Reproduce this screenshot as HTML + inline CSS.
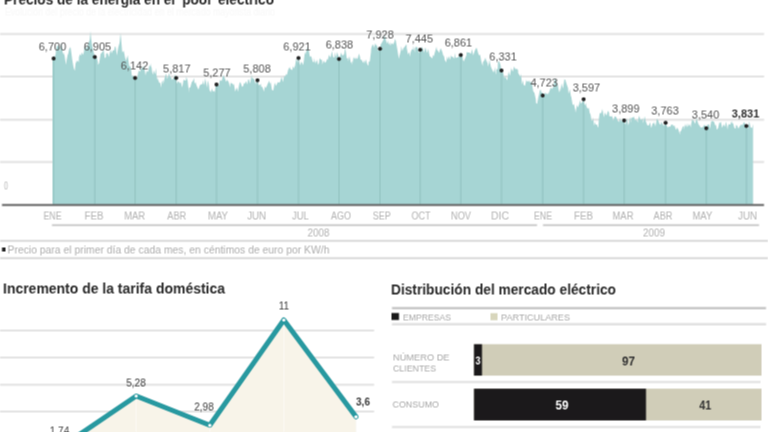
<!DOCTYPE html>
<html><head><meta charset="utf-8"><style>
html,body{margin:0;padding:0;background:#fff;width:768px;height:432px;overflow:hidden}
svg{display:block;font-family:"Liberation Sans", sans-serif}
#w{will-change:transform}
</style></head><body>
<div id="w"><svg width="768" height="432" viewBox="0 0 768 432">
<defs><g id="c"><rect x="-2" y="-2" width="772" height="436" fill="#fff"/>
<line x1="0" y1="34.1" x2="764" y2="34.1" stroke="#e4e4e4" stroke-width="2"/>
<line x1="0" y1="76.5" x2="764" y2="76.5" stroke="#e4e4e4" stroke-width="2"/>
<line x1="0" y1="119.7" x2="764" y2="119.7" stroke="#e4e4e4" stroke-width="2"/>
<line x1="0" y1="162.1" x2="764" y2="162.1" stroke="#e4e4e4" stroke-width="2"/>
<path d="M52.50,205.00 L52.50,58.00 L53.00,59.75 L53.00,58.00 L54.00,55.00 L54.36,58.57 L55.72,53.96 L56.00,50.00 L57.08,45.59 L58.00,46.00 L58.44,44.94 L59.80,52.04 L60.00,48.00 L61.16,42.97 L62.00,47.00 L62.52,52.01 L63.88,55.17 L64.00,52.00 L65.24,60.24 L66.00,65.00 L66.60,60.53 L67.96,53.48 L68.00,55.00 L69.32,48.82 L70.50,47.00 L70.68,48.27 L72.00,58.00 L72.04,58.77 L73.40,66.73 L74.00,69.00 L74.76,71.04 L76.00,60.00 L76.12,63.31 L77.48,60.24 L78.84,62.55 L79.00,57.00 L80.20,54.05 L81.00,56.00 L81.56,52.36 L82.92,55.07 L84.00,52.00 L84.28,47.52 L85.64,45.40 L86.00,49.00 L87.00,47.65 L88.00,45.00 L88.36,43.15 L89.72,40.04 L90.50,31.00 L91.08,38.21 L92.00,45.00 L92.44,47.40 L93.80,52.67 L95.00,57.00 L95.16,55.40 L96.52,56.67 L97.88,62.10 L98.00,65.00 L99.24,63.08 L100.00,58.00 L100.60,54.11 L101.96,52.62 L103.00,51.00 L103.32,47.18 L104.68,58.16 L106.00,57.00 L106.04,53.98 L107.40,53.08 L108.00,54.00 L108.76,57.29 L110.12,51.77 L111.00,50.00 L111.48,53.58 L112.84,50.41 L114.20,50.32 L114.70,47.00 L115.56,46.41 L116.92,55.63 L117.00,55.00 L118.28,47.53 L119.64,42.62 L120.50,33.00 L121.00,37.78 L122.00,50.00 L122.36,52.47 L123.72,50.82 L125.08,57.85 L126.00,61.00 L126.44,59.07 L127.80,55.30 L128.00,58.00 L129.16,65.92 L130.52,66.53 L131.00,69.00 L131.88,76.27 L133.24,75.44 L134.60,78.65 L135.00,78.00 L135.96,78.65 L137.32,77.30 L138.68,70.31 L139.70,72.00 L140.04,71.45 L141.40,67.63 L142.70,68.00 L142.76,67.58 L144.12,65.79 L145.48,75.76 L146.84,69.50 L147.00,72.00 L148.20,71.52 L149.56,64.74 L150.92,67.42 L151.00,63.00 L152.28,72.80 L153.00,75.00 L153.64,70.32 L155.00,74.28 L156.00,68.00 L156.36,74.75 L157.72,81.14 L158.00,78.00 L159.08,82.80 L160.44,83.09 L161.00,88.00 L161.80,82.22 L163.00,80.00 L163.16,84.54 L164.52,78.74 L165.00,77.00 L165.88,73.43 L167.24,79.10 L168.60,75.32 L169.00,73.00 L169.96,76.44 L171.32,77.68 L172.00,80.00 L172.68,79.35 L174.04,77.13 L175.40,74.61 L176.00,78.50 L176.76,83.65 L178.12,81.15 L179.00,82.00 L179.48,83.37 L180.84,82.21 L182.20,87.61 L182.70,85.00 L183.56,79.45 L184.92,80.86 L186.00,80.00 L186.28,76.55 L187.64,81.10 L189.00,93.17 L189.00,88.00 L190.36,87.36 L191.72,82.34 L193.08,80.58 L194.00,78.00 L194.44,83.55 L195.80,82.34 L196.00,84.00 L197.16,86.95 L198.52,89.70 L199.00,88.00 L199.88,85.29 L201.24,84.21 L202.60,83.95 L203.00,80.00 L203.96,85.23 L205.32,78.56 L206.00,82.00 L206.68,87.74 L208.04,80.27 L209.00,86.00 L209.40,89.68 L210.76,92.46 L212.12,87.93 L212.70,92.00 L213.48,90.42 L214.84,92.17 L216.20,81.95 L217.00,85.00 L217.56,85.85 L218.92,85.23 L220.00,80.00 L220.28,80.32 L221.64,80.94 L222.70,77.00 L223.00,75.22 L224.36,77.00 L225.72,80.71 L226.00,82.00 L227.08,79.65 L228.44,81.77 L229.00,83.00 L229.80,87.51 L230.70,82.00 L231.16,83.83 L232.52,83.27 L233.00,85.00 L233.88,83.88 L235.24,91.70 L236.60,87.64 L237.00,88.00 L237.96,91.38 L239.32,84.02 L240.00,82.00 L240.68,82.88 L242.04,86.98 L243.40,85.78 L244.00,83.00 L244.76,83.74 L246.12,81.18 L247.48,84.67 L248.00,80.00 L248.84,79.20 L250.20,83.63 L251.56,74.41 L252.00,78.00 L252.92,78.17 L254.28,79.61 L255.64,84.47 L257.00,78.01 L257.00,80.00 L258.36,84.92 L259.72,84.98 L261.00,84.00 L261.08,86.74 L262.44,87.02 L263.80,91.60 L265.16,86.37 L265.70,88.00 L266.52,86.72 L267.88,83.50 L269.24,80.71 L270.00,84.00 L270.60,82.08 L271.96,90.12 L273.32,90.39 L274.00,87.00 L274.68,82.77 L276.04,85.99 L277.40,83.04 L278.00,82.00 L278.76,82.69 L280.12,81.97 L281.48,77.09 L282.00,78.00 L282.84,82.27 L284.20,75.96 L285.56,76.22 L286.00,74.00 L286.92,75.07 L288.28,69.40 L289.64,67.02 L290.70,70.00 L291.00,69.09 L292.36,70.25 L293.00,66.00 L293.72,68.59 L295.08,65.72 L295.70,62.00 L296.44,57.65 L297.80,63.83 L298.70,58.00 L299.16,62.32 L300.52,65.44 L301.00,62.00 L301.88,62.15 L303.24,65.16 L304.00,60.00 L304.60,54.47 L305.96,50.90 L306.00,55.00 L307.32,46.74 L308.00,49.00 L308.68,50.09 L310.00,58.00 L310.04,56.03 L311.40,56.78 L312.76,61.93 L314.00,62.00 L314.12,57.91 L315.48,63.70 L316.84,59.73 L318.20,65.12 L319.00,63.00 L319.56,58.15 L320.92,59.69 L322.00,60.00 L322.28,64.83 L323.64,60.56 L325.00,63.02 L326.36,61.21 L327.00,59.00 L327.72,60.07 L329.08,54.85 L330.44,57.66 L331.00,56.00 L331.80,51.10 L333.16,57.36 L334.52,57.58 L335.00,52.00 L335.88,57.58 L337.24,51.93 L338.60,57.19 L339.00,59.00 L339.96,56.40 L341.32,52.53 L342.00,55.00 L342.68,55.41 L344.04,54.39 L345.00,49.00 L345.40,48.84 L346.76,58.41 L348.00,58.00 L348.12,61.56 L349.48,55.90 L350.84,63.30 L352.00,61.00 L352.20,65.13 L353.56,56.91 L354.92,59.32 L356.00,57.00 L356.28,58.89 L357.64,58.59 L359.00,53.46 L360.00,57.00 L360.36,59.38 L361.72,60.11 L363.08,63.05 L364.00,60.00 L364.44,63.72 L365.80,59.54 L367.16,64.07 L368.52,66.10 L368.70,62.00 L369.88,61.30 L371.00,52.00 L371.24,48.58 L372.60,44.21 L373.70,46.00 L373.96,47.93 L375.32,43.16 L376.68,46.23 L377.00,45.00 L378.04,51.33 L379.40,47.49 L380.00,49.00 L380.76,44.56 L382.12,42.19 L383.48,39.79 L383.70,37.00 L384.84,35.93 L386.20,41.61 L387.00,44.00 L387.56,40.46 L388.92,44.84 L390.00,42.00 L390.28,46.09 L391.64,42.91 L393.00,44.22 L393.00,45.00 L394.36,41.82 L395.00,39.00 L395.72,40.54 L397.08,48.22 L398.44,56.39 L398.70,59.00 L399.80,54.77 L401.00,50.00 L401.16,46.14 L402.52,51.34 L403.70,47.00 L403.88,48.35 L405.24,46.01 L406.60,44.24 L406.70,48.00 L407.96,54.57 L409.32,51.96 L410.00,57.00 L410.68,52.25 L412.04,49.05 L413.00,50.00 L413.40,45.91 L414.76,52.80 L415.00,48.00 L416.12,46.64 L417.48,47.56 L418.84,53.36 L420.00,50.00 L420.20,51.62 L421.56,46.75 L422.92,48.68 L424.28,52.63 L425.00,48.00 L425.64,48.05 L427.00,53.11 L428.36,48.67 L429.00,53.00 L429.72,56.13 L431.08,57.30 L432.44,58.48 L433.00,55.00 L433.80,56.24 L435.16,51.51 L436.52,46.74 L437.00,50.00 L437.88,50.69 L439.24,53.07 L440.00,50.00 L440.60,48.31 L441.96,51.10 L443.32,55.84 L444.00,56.00 L444.68,59.66 L446.04,62.51 L447.40,56.16 L448.00,60.00 L448.76,56.08 L450.12,59.96 L451.00,55.00 L451.48,56.71 L452.84,56.79 L454.20,58.87 L455.00,53.00 L455.56,58.08 L456.92,57.57 L458.28,57.36 L459.64,54.00 L461.00,56.91 L461.00,55.00 L462.36,55.74 L463.00,60.00 L463.72,61.54 L465.08,58.58 L466.44,55.28 L466.70,52.00 L467.80,52.46 L469.16,52.43 L470.52,53.47 L471.00,54.00 L471.88,48.91 L473.24,55.59 L474.60,51.13 L475.96,48.15 L476.70,48.00 L477.32,50.30 L478.68,54.92 L480.00,55.00 L480.04,54.41 L481.40,62.07 L482.76,66.13 L483.00,62.00 L484.12,60.81 L485.48,57.64 L486.84,63.18 L487.00,60.00 L488.20,66.63 L489.56,59.54 L490.00,63.00 L490.92,66.91 L492.28,69.95 L493.64,72.80 L495.00,66.73 L495.00,70.00 L496.00,75.00 L496.36,69.08 L497.72,69.20 L498.00,62.00 L499.08,61.10 L500.44,64.76 L501.80,71.80 L502.00,71.00 L503.16,72.99 L504.52,78.41 L505.88,75.20 L506.00,78.00 L507.24,80.58 L508.60,71.34 L509.00,73.00 L509.96,75.71 L511.32,68.02 L512.68,71.39 L513.00,71.00 L514.04,66.62 L515.40,69.16 L516.76,68.87 L518.00,70.00 L518.12,73.12 L519.48,75.23 L520.00,77.00 L520.84,73.91 L522.20,84.65 L523.00,80.00 L523.56,84.76 L524.92,85.94 L526.00,82.00 L526.28,80.04 L527.64,81.88 L529.00,80.58 L529.70,83.00 L530.36,81.15 L531.72,83.12 L533.00,90.00 L533.08,90.88 L534.44,92.97 L535.80,99.40 L536.00,103.00 L537.16,104.01 L538.52,96.62 L539.00,95.00 L539.88,90.14 L541.00,90.00 L541.24,92.80 L542.60,92.16 L543.00,95.00 L543.96,95.39 L545.32,92.40 L546.68,94.19 L548.00,93.00 L548.04,94.72 L549.40,91.53 L550.76,87.86 L551.00,88.00 L552.12,88.99 L553.48,86.87 L554.70,80.00 L554.84,77.66 L556.20,80.78 L557.00,86.00 L557.56,83.05 L558.92,92.72 L559.70,88.00 L560.28,92.16 L561.64,83.28 L562.00,85.00 L563.00,88.77 L564.36,79.21 L565.50,80.00 L565.72,81.27 L567.08,85.53 L568.00,88.00 L568.44,93.97 L569.80,89.31 L571.00,97.00 L571.16,96.29 L572.52,104.58 L573.00,105.00 L573.88,103.98 L575.24,110.03 L575.50,113.00 L576.60,107.28 L577.00,105.00 L577.96,107.53 L579.32,103.81 L579.70,100.00 L580.68,103.49 L582.04,102.40 L583.00,99.00 L583.40,102.11 L584.76,105.34 L586.00,103.00 L586.12,105.55 L587.48,108.82 L588.50,108.00 L588.84,108.10 L590.00,115.00 L590.20,112.55 L591.56,120.95 L592.70,120.00 L592.92,117.35 L594.28,126.07 L595.00,122.00 L595.64,124.65 L597.00,124.50 L597.70,127.00 L598.36,127.30 L599.00,118.00 L599.72,113.25 L601.00,113.00 L601.08,113.62 L602.44,109.06 L603.80,117.45 L605.00,112.00 L605.16,113.27 L606.52,115.73 L607.88,110.68 L609.00,112.50 L609.24,116.22 L610.60,116.36 L611.96,116.90 L612.00,115.00 L613.32,120.67 L614.68,116.17 L616.00,117.00 L616.04,116.67 L617.40,120.12 L618.76,122.23 L620.00,119.00 L620.12,117.91 L621.48,121.94 L622.84,118.01 L624.00,121.00 L624.20,122.10 L625.56,124.82 L626.92,118.32 L628.28,125.49 L629.00,123.00 L629.64,117.05 L631.00,123.08 L631.00,118.00 L632.36,117.73 L633.72,116.68 L634.00,117.00 L635.08,120.51 L636.44,119.56 L637.80,122.66 L638.00,120.00 L639.16,115.85 L640.52,120.06 L641.88,119.43 L642.70,118.00 L643.24,123.48 L644.60,116.20 L645.96,121.98 L646.00,122.00 L647.32,125.13 L648.68,125.69 L650.04,122.28 L651.00,127.00 L651.40,128.03 L652.76,122.96 L654.00,124.00 L654.12,121.33 L655.48,126.69 L656.84,118.41 L657.70,120.00 L658.20,120.35 L659.56,124.13 L660.92,124.52 L661.00,122.00 L662.28,123.31 L663.64,126.13 L665.00,123.01 L665.70,123.00 L666.36,124.95 L667.72,127.45 L669.08,126.56 L670.44,126.71 L671.00,125.00 L671.80,124.56 L673.00,125.00 L673.16,126.20 L674.52,125.60 L675.88,130.10 L677.00,128.00 L677.24,127.62 L678.60,130.30 L679.96,135.00 L680.00,132.00 L681.32,130.56 L682.68,126.86 L684.00,126.00 L684.04,129.73 L685.40,124.11 L686.76,127.58 L687.50,123.00 L688.12,126.71 L689.48,124.10 L690.84,127.54 L691.00,125.00 L692.20,119.24 L693.56,120.98 L694.00,121.00 L694.92,124.00 L696.28,119.56 L696.50,118.00 L697.64,121.81 L699.00,126.15 L699.00,124.00 L700.36,127.30 L701.72,127.38 L703.00,127.00 L703.08,126.73 L704.44,124.81 L705.80,126.36 L706.00,128.00 L707.16,124.88 L708.52,124.45 L709.00,124.00 L709.88,128.78 L711.24,121.21 L712.60,121.05 L712.70,121.00 L713.96,121.74 L715.32,125.49 L716.00,125.00 L716.68,129.64 L718.04,128.37 L719.40,122.57 L720.00,123.00 L720.76,121.38 L722.12,127.93 L723.48,124.41 L723.60,124.00 L724.84,126.92 L726.20,121.41 L727.56,129.97 L728.00,126.00 L728.92,123.94 L730.28,124.74 L731.64,120.75 L732.00,123.00 L733.00,123.20 L734.36,127.96 L735.72,128.64 L736.00,125.00 L737.08,125.51 L738.44,128.79 L739.80,126.03 L740.00,126.00 L741.16,124.46 L742.52,125.28 L743.00,124.00 L743.88,121.99 L745.24,123.88 L746.60,128.51 L746.70,126.00 L747.96,128.82 L749.32,121.27 L750.00,125.00 L750.68,127.60 L752.04,127.99 L753.00,124.00 L753.00,124.00 L753.00,205.00 Z" fill="#a6d5d4"/>
<line x1="53.6" y1="58.5" x2="53.6" y2="205" stroke="#93c3c1" stroke-width="1"/>
<line x1="94.8" y1="57.1" x2="94.8" y2="205" stroke="#93c3c1" stroke-width="1"/>
<line x1="135.1" y1="78.1" x2="135.1" y2="205" stroke="#93c3c1" stroke-width="1"/>
<line x1="176.2" y1="78.1" x2="176.2" y2="205" stroke="#93c3c1" stroke-width="1"/>
<line x1="216.5" y1="84.6" x2="216.5" y2="205" stroke="#93c3c1" stroke-width="1"/>
<line x1="257.5" y1="80.2" x2="257.5" y2="205" stroke="#93c3c1" stroke-width="1"/>
<line x1="298.5" y1="58.1" x2="298.5" y2="205" stroke="#93c3c1" stroke-width="1"/>
<line x1="339" y1="58.9" x2="339" y2="205" stroke="#93c3c1" stroke-width="1"/>
<line x1="380" y1="48.8" x2="380" y2="205" stroke="#93c3c1" stroke-width="1"/>
<line x1="420.2" y1="49.8" x2="420.2" y2="205" stroke="#93c3c1" stroke-width="1"/>
<line x1="460.8" y1="55" x2="460.8" y2="205" stroke="#93c3c1" stroke-width="1"/>
<line x1="501.5" y1="70.6" x2="501.5" y2="205" stroke="#93c3c1" stroke-width="1"/>
<line x1="542.7" y1="95.4" x2="542.7" y2="205" stroke="#93c3c1" stroke-width="1"/>
<line x1="583.6" y1="99.3" x2="583.6" y2="205" stroke="#93c3c1" stroke-width="1"/>
<line x1="624.2" y1="120.6" x2="624.2" y2="205" stroke="#93c3c1" stroke-width="1"/>
<line x1="665.6" y1="122.8" x2="665.6" y2="205" stroke="#93c3c1" stroke-width="1"/>
<line x1="706.3" y1="128.2" x2="706.3" y2="205" stroke="#93c3c1" stroke-width="1"/>
<line x1="746.4" y1="126.1" x2="746.4" y2="205" stroke="#93c3c1" stroke-width="1"/>
<line x1="2" y1="205" x2="764" y2="205" stroke="#666" stroke-width="2"/>
<circle cx="53.6" cy="58.5" r="2" fill="#222"/>
<circle cx="94.8" cy="57.1" r="2" fill="#222"/>
<circle cx="135.1" cy="78.1" r="2" fill="#222"/>
<circle cx="176.2" cy="78.1" r="2" fill="#222"/>
<circle cx="216.5" cy="84.6" r="2" fill="#222"/>
<circle cx="257.5" cy="80.2" r="2" fill="#222"/>
<circle cx="298.5" cy="58.1" r="2" fill="#222"/>
<circle cx="339" cy="58.9" r="2" fill="#222"/>
<circle cx="380" cy="48.8" r="2" fill="#222"/>
<circle cx="420.2" cy="49.8" r="2" fill="#222"/>
<circle cx="460.8" cy="55" r="2" fill="#222"/>
<circle cx="501.5" cy="70.6" r="2" fill="#222"/>
<circle cx="542.7" cy="95.4" r="2" fill="#222"/>
<circle cx="583.6" cy="99.3" r="2" fill="#222"/>
<circle cx="624.2" cy="120.6" r="2" fill="#222"/>
<circle cx="665.6" cy="122.8" r="2" fill="#222"/>
<circle cx="706.3" cy="128.2" r="2" fill="#222"/>
<circle cx="746.4" cy="126.1" r="2" fill="#222"/>
<text x="52.5" y="50.3" text-anchor="middle" font-size="11" font-weight="normal" fill="#555" textLength="27.5" lengthAdjust="spacingAndGlyphs">6,700</text>
<text x="97.4" y="50.3" text-anchor="middle" font-size="11" font-weight="normal" fill="#555" textLength="27.5" lengthAdjust="spacingAndGlyphs">6,905</text>
<text x="134.5" y="69.1" text-anchor="middle" font-size="11" font-weight="normal" fill="#555" textLength="27.5" lengthAdjust="spacingAndGlyphs">6,142</text>
<text x="176.8" y="72.5" text-anchor="middle" font-size="11" font-weight="normal" fill="#555" textLength="27.5" lengthAdjust="spacingAndGlyphs">5,817</text>
<text x="216.9" y="76.2" text-anchor="middle" font-size="11" font-weight="normal" fill="#555" textLength="27.5" lengthAdjust="spacingAndGlyphs">5,277</text>
<text x="257" y="72.5" text-anchor="middle" font-size="11" font-weight="normal" fill="#555" textLength="27.5" lengthAdjust="spacingAndGlyphs">5,808</text>
<text x="297" y="50.8" text-anchor="middle" font-size="11" font-weight="normal" fill="#555" textLength="27.5" lengthAdjust="spacingAndGlyphs">6,921</text>
<text x="339.4" y="48.8" text-anchor="middle" font-size="11" font-weight="normal" fill="#555" textLength="27.5" lengthAdjust="spacingAndGlyphs">6,838</text>
<text x="380" y="38.3" text-anchor="middle" font-size="11" font-weight="normal" fill="#555" textLength="27.5" lengthAdjust="spacingAndGlyphs">7,928</text>
<text x="419.3" y="42.1" text-anchor="middle" font-size="11" font-weight="normal" fill="#555" textLength="27.5" lengthAdjust="spacingAndGlyphs">7,445</text>
<text x="458.4" y="46.5" text-anchor="middle" font-size="11" font-weight="normal" fill="#555" textLength="27.5" lengthAdjust="spacingAndGlyphs">6,861</text>
<text x="503.1" y="60.4" text-anchor="middle" font-size="11" font-weight="normal" fill="#555" textLength="27.5" lengthAdjust="spacingAndGlyphs">6,331</text>
<text x="544.2" y="86.8" text-anchor="middle" font-size="11" font-weight="normal" fill="#555" textLength="27.5" lengthAdjust="spacingAndGlyphs">4,723</text>
<text x="586.4" y="91.6" text-anchor="middle" font-size="11" font-weight="normal" fill="#555" textLength="27.5" lengthAdjust="spacingAndGlyphs">3,597</text>
<text x="625.8" y="112.0" text-anchor="middle" font-size="11" font-weight="normal" fill="#555" textLength="27.5" lengthAdjust="spacingAndGlyphs">3,899</text>
<text x="665" y="114.7" text-anchor="middle" font-size="11" font-weight="normal" fill="#555" textLength="27.5" lengthAdjust="spacingAndGlyphs">3,763</text>
<text x="705.6" y="118.7" text-anchor="middle" font-size="11" font-weight="normal" fill="#555" textLength="27.5" lengthAdjust="spacingAndGlyphs">3,540</text>
<text x="745.5" y="117.4" text-anchor="middle" font-size="11" font-weight="bold" fill="#333" textLength="27.5" lengthAdjust="spacingAndGlyphs">3,831</text>
<text x="4" y="189.3" font-size="10" fill="#bbb" textLength="4" lengthAdjust="spacingAndGlyphs">0</text>
<text x="52.5" y="219.6" text-anchor="middle" font-size="10" fill="#b4b4b4" textLength="18" lengthAdjust="spacingAndGlyphs">ENE</text>
<text x="94" y="219.6" text-anchor="middle" font-size="10" fill="#b4b4b4" textLength="19" lengthAdjust="spacingAndGlyphs">FEB</text>
<text x="134.7" y="219.6" text-anchor="middle" font-size="10" fill="#b4b4b4" textLength="21" lengthAdjust="spacingAndGlyphs">MAR</text>
<text x="176.8" y="219.6" text-anchor="middle" font-size="10" fill="#b4b4b4" textLength="19" lengthAdjust="spacingAndGlyphs">ABR</text>
<text x="218" y="219.6" text-anchor="middle" font-size="10" fill="#b4b4b4" textLength="20" lengthAdjust="spacingAndGlyphs">MAY</text>
<text x="256.7" y="219.6" text-anchor="middle" font-size="10" fill="#b4b4b4" textLength="19" lengthAdjust="spacingAndGlyphs">JUN</text>
<text x="300.4" y="219.6" text-anchor="middle" font-size="10" fill="#b4b4b4" textLength="17" lengthAdjust="spacingAndGlyphs">JUL</text>
<text x="341" y="219.6" text-anchor="middle" font-size="10" fill="#b4b4b4" textLength="20" lengthAdjust="spacingAndGlyphs">AGO</text>
<text x="381.7" y="219.6" text-anchor="middle" font-size="10" fill="#b4b4b4" textLength="18" lengthAdjust="spacingAndGlyphs">SEP</text>
<text x="421" y="219.6" text-anchor="middle" font-size="10" fill="#b4b4b4" textLength="19" lengthAdjust="spacingAndGlyphs">OCT</text>
<text x="461" y="219.6" text-anchor="middle" font-size="10" fill="#b4b4b4" textLength="20" lengthAdjust="spacingAndGlyphs">NOV</text>
<text x="500" y="219.6" text-anchor="middle" font-size="10" fill="#b4b4b4" textLength="18" lengthAdjust="spacingAndGlyphs">DIC</text>
<text x="543" y="219.6" text-anchor="middle" font-size="10" fill="#b4b4b4" textLength="18" lengthAdjust="spacingAndGlyphs">ENE</text>
<text x="583.6" y="219.6" text-anchor="middle" font-size="10" fill="#b4b4b4" textLength="19" lengthAdjust="spacingAndGlyphs">FEB</text>
<text x="623" y="219.6" text-anchor="middle" font-size="10" fill="#b4b4b4" textLength="21" lengthAdjust="spacingAndGlyphs">MAR</text>
<text x="663" y="219.6" text-anchor="middle" font-size="10" fill="#b4b4b4" textLength="19" lengthAdjust="spacingAndGlyphs">ABR</text>
<text x="702.4" y="219.6" text-anchor="middle" font-size="10" fill="#b4b4b4" textLength="20" lengthAdjust="spacingAndGlyphs">MAY</text>
<text x="747.6" y="219.6" text-anchor="middle" font-size="10" fill="#b4b4b4" textLength="19" lengthAdjust="spacingAndGlyphs">JUN</text>
<line x1="52" y1="225.2" x2="537" y2="225.2" stroke="#c8c8c8" stroke-width="1.8"/>
<line x1="543" y1="225.2" x2="759" y2="225.2" stroke="#c8c8c8" stroke-width="1.8"/>
<text x="318.6" y="236.6" text-anchor="middle" font-size="10" fill="#b4b4b4" textLength="22" lengthAdjust="spacingAndGlyphs">2008</text>
<text x="654" y="236.6" text-anchor="middle" font-size="10" fill="#b4b4b4" textLength="22" lengthAdjust="spacingAndGlyphs">2009</text>
<line x1="0" y1="240.9" x2="768" y2="240.9" stroke="#d6d6d6" stroke-width="1.8"/>
<line x1="0" y1="258.2" x2="768" y2="258.2" stroke="#d6d6d6" stroke-width="1.8"/>
<rect x="2" y="247.5" width="3.5" height="4" fill="#222"/>
<text x="7.5" y="253.2" font-size="10.3" fill="#b0b0b0" textLength="322" lengthAdjust="spacingAndGlyphs">Precio para el primer día de cada mes,  en céntimos de euro por KW/h</text>
<text x="5" y="15.5" font-size="10" fill="#f9f9f9" textLength="270" lengthAdjust="spacingAndGlyphs">Evolución del precio de la electricidad en el mercado mayorista diario</text>
<text x="4" y="4.2" font-size="14.5" font-weight="bold" fill="#2a2a2a" textLength="270" lengthAdjust="spacingAndGlyphs">Precios de la energía en el 'pool' eléctrico</text>
<text x="3" y="293.8" font-size="14" font-weight="bold" fill="#2a2a2a" textLength="222" lengthAdjust="spacingAndGlyphs">Incremento de la tarifa doméstica</text>
<text x="391" y="294" font-size="14" font-weight="bold" fill="#2a2a2a" textLength="225" lengthAdjust="spacingAndGlyphs">Distribución del mercado eléctrico</text>
<line x1="0" y1="330.5" x2="374" y2="330.5" stroke="#e4e4e4" stroke-width="2"/>
<line x1="0" y1="357.5" x2="374" y2="357.5" stroke="#e4e4e4" stroke-width="2"/>
<line x1="0" y1="384.7" x2="374" y2="384.7" stroke="#e4e4e4" stroke-width="2"/>
<line x1="0" y1="411.4" x2="374" y2="411.4" stroke="#e4e4e4" stroke-width="2"/>
<path d="M62,460 L62,446.4 L136.2,396 L209.8,425.3 L283.8,320 L356,416.8 L356,460 Z" fill="#f8f4e9"/>
<line x1="136.2" y1="396" x2="136.2" y2="432" stroke="#fdfbf6" stroke-width="1.2"/>
<line x1="209.8" y1="425.3" x2="209.8" y2="432" stroke="#fdfbf6" stroke-width="1.2"/>
<line x1="283.8" y1="320" x2="283.8" y2="432" stroke="#fdfbf6" stroke-width="1.2"/>
<polyline points="62,446.4 136.2,396 209.8,425.3 283.8,320 356,416.8" fill="none" stroke="#2899a0" stroke-width="5" stroke-linejoin="round" stroke-linecap="round"/>
<circle cx="62" cy="446.4" r="1.6" fill="#fff"/>
<circle cx="136.2" cy="396" r="1.6" fill="#fff"/>
<circle cx="209.8" cy="425.3" r="1.6" fill="#fff"/>
<circle cx="283.8" cy="320" r="1.6" fill="#fff"/>
<circle cx="356" cy="416.8" r="1.6" fill="#fff"/>
<text x="59.5" y="434" text-anchor="middle" font-size="10" font-weight="normal" fill="#3a3a3a">1,74</text>
<text x="136" y="386" text-anchor="middle" font-size="10" font-weight="normal" fill="#3a3a3a">5,28</text>
<text x="204" y="410" text-anchor="middle" font-size="10" font-weight="normal" fill="#3a3a3a">2,98</text>
<text x="284" y="309.5" text-anchor="middle" font-size="10" font-weight="normal" fill="#3a3a3a">11</text>
<text x="363" y="405" text-anchor="middle" font-size="10" font-weight="bold" fill="#3a3a3a">3,6</text>
<line x1="392" y1="308.1" x2="766" y2="308.1" stroke="#c4c4c4" stroke-width="2.4"/>
<line x1="392" y1="324.2" x2="766" y2="324.2" stroke="#e2e2e2" stroke-width="2.4"/>
<rect x="391.5" y="313" width="7.5" height="7" fill="#1a1a1a"/>
<text x="403" y="320" font-size="8.3" fill="#aaa" textLength="48" lengthAdjust="spacingAndGlyphs">EMPRESAS</text>
<rect x="490.5" y="313.2" width="7" height="7" fill="#d8d6bc"/>
<text x="501" y="320" font-size="8.3" fill="#aaa" textLength="69" lengthAdjust="spacingAndGlyphs">PARTICULARES</text>
<text x="393" y="360.6" font-size="9" fill="#aaa" textLength="56.5" lengthAdjust="spacingAndGlyphs">NÚMERO DE</text>
<text x="393" y="371.2" font-size="9" fill="#aaa" textLength="43" lengthAdjust="spacingAndGlyphs">CLIENTES</text>
<text x="392.5" y="407.3" font-size="9" fill="#aaa" textLength="46.5" lengthAdjust="spacingAndGlyphs">CONSUMO</text>
<rect x="474" y="344.2" width="287.5" height="31.4" fill="#d0cdb8"/>
<rect x="474" y="344.2" width="8" height="31.4" fill="#1b191b"/>
<rect x="474" y="388.7" width="287.5" height="31.7" fill="#d0cdb8"/>
<rect x="474" y="388.7" width="172" height="31.7" fill="#1b191b"/>
<line x1="392" y1="382" x2="760.5" y2="382" stroke="#e2e2e2" stroke-width="2.2"/>
<line x1="392" y1="427" x2="760.5" y2="427" stroke="#e2e2e2" stroke-width="2.2"/>
<text x="478" y="364.5" text-anchor="middle" font-size="10.5" font-weight="bold" fill="#fff" textLength="5" lengthAdjust="spacingAndGlyphs">3</text>
<text x="628.5" y="365.8" text-anchor="middle" font-size="12" font-weight="bold" fill="#333" textLength="13" lengthAdjust="spacingAndGlyphs">97</text>
<text x="562" y="409.8" text-anchor="middle" font-size="12" font-weight="bold" fill="#fff" textLength="13" lengthAdjust="spacingAndGlyphs">59</text>
<text x="705.2" y="409.5" text-anchor="middle" font-size="12" font-weight="bold" fill="#333" textLength="12" lengthAdjust="spacingAndGlyphs">41</text>
</g></defs>
<use href="#c" x="-0.5" y="-0.5"/><use href="#c" x="0.5" y="-0.5" opacity="0.5"/><use href="#c" x="-0.5" y="0.5" opacity="0.3333"/><use href="#c" x="0.5" y="0.5" opacity="0.25"/>
</svg></div>
</body></html>
